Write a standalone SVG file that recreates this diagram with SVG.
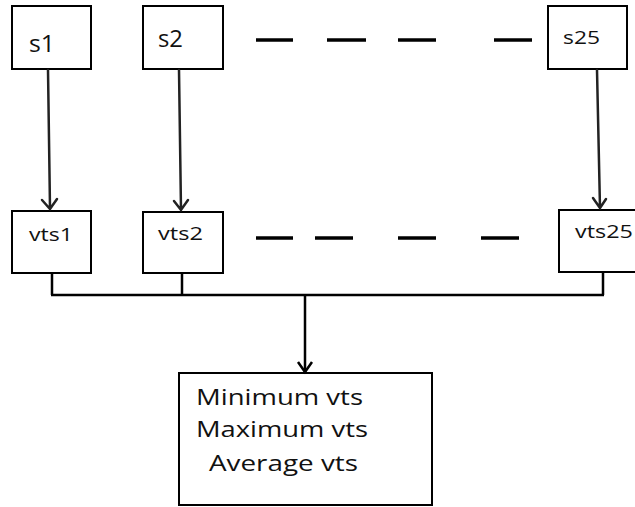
<svg xmlns="http://www.w3.org/2000/svg" width="635" height="507" viewBox="0 0 635 507">
<defs>
<style>
.box{fill:#fff;stroke:#000;stroke-width:2}
.t{font-family:"Open Sans","Noto Sans",sans-serif;fill:#111}
.c{fill:none;stroke:#000;stroke-width:2.5}
.a{fill:none;stroke:#222;stroke-width:2.5;stroke-linecap:round}
.d{stroke:#000;stroke-width:3.5}
</style>
</defs>
<rect width="635" height="507" fill="#fff"/>
<g id="s1"><rect class="box" x="12" y="6" width="79" height="63"/><text class="t" x="29" y="52" font-size="23" textLength="26" lengthAdjust="spacingAndGlyphs">s1</text></g>
<g id="s2"><rect class="box" x="143" y="6" width="80" height="63"/><text class="t" x="158" y="47" font-size="23" textLength="25" lengthAdjust="spacingAndGlyphs">s2</text></g>
<g id="s25"><rect class="box" x="548" y="6" width="79" height="63"/><text class="t" x="563" y="44" font-size="19" textLength="37" lengthAdjust="spacingAndGlyphs">s25</text></g>
<g id="vts1"><rect class="box" x="12" y="211" width="79" height="62"/><text class="t" x="29" y="241" font-size="18" textLength="44" lengthAdjust="spacingAndGlyphs">vts1</text></g>
<g id="vts2"><rect class="box" x="143" y="212" width="80" height="61"/><text class="t" x="158" y="240" font-size="18" textLength="45" lengthAdjust="spacingAndGlyphs">vts2</text></g>
<g id="vts25"><rect class="box" x="559" y="210" width="82" height="62"/><text class="t" x="575" y="238" font-size="18" textLength="58" lengthAdjust="spacingAndGlyphs">vts25</text></g>
<g id="result"><rect class="box" x="179" y="373" width="253" height="132"/>
<text class="t" x="196" y="405" font-size="22" textLength="167" lengthAdjust="spacingAndGlyphs">Minimum vts</text>
<text class="t" x="196" y="437" font-size="22" textLength="172" lengthAdjust="spacingAndGlyphs">Maximum vts</text>
<text class="t" x="209" y="471" font-size="22" textLength="149" lengthAdjust="spacingAndGlyphs">Average vts</text>
</g>
<g id="connectors">
<path class="a" d="M48 70 L50 208 M42 200 L50 209 L57 199"/>
<path class="a" d="M179 70 L181 210 M174 201 L181 210 L188 200"/>
<path class="a" d="M597 70 L600 208 M593 198 L600 208 L606 199"/>
<path class="c" d="M52 273 V295 M182 273 V295 M603 272 V295 M51 295 H604 M305 295 V372"/>
<path class="c" d="M298 362 L305 372 L312 362"/>
<g id="dashes">
<line class="d" x1="256" y1="40" x2="293" y2="40"/>
<line class="d" x1="327" y1="40" x2="366" y2="40"/>
<line class="d" x1="398" y1="40" x2="436" y2="40"/>
<line class="d" x1="494" y1="40" x2="532" y2="40"/>
<line class="d" x1="256" y1="238" x2="293" y2="238"/>
<line class="d" x1="315" y1="238" x2="353" y2="238"/>
<line class="d" x1="398" y1="238" x2="436" y2="238"/>
<line class="d" x1="481" y1="238" x2="519" y2="238"/>
</g>
</g>
</svg>
